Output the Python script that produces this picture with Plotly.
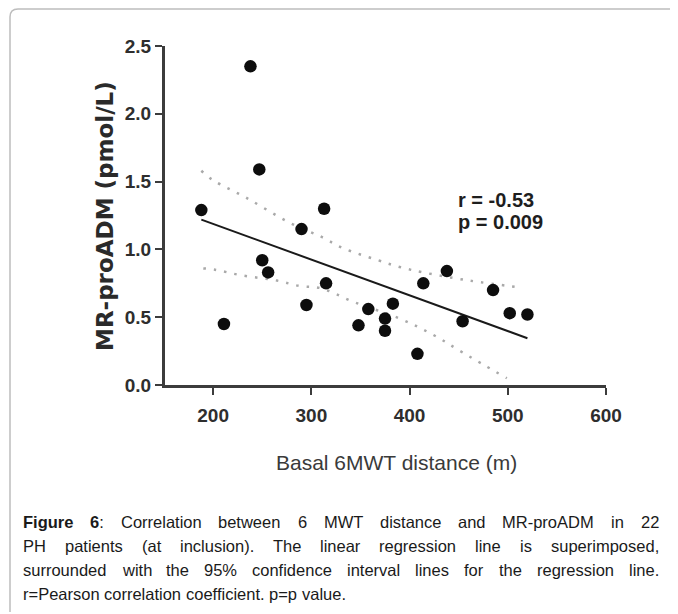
import plotly.graph_objects as go

# ---------------- data ----------------
mwt_m = [188, 238, 247, 211, 250, 256, 290, 295, 313, 315, 358,
         348, 375, 375, 383, 408, 414, 438, 454, 485, 502, 520]
mr_proadm = [1.29, 2.35, 1.59, 0.45, 0.92, 0.83, 1.15, 0.59, 1.30, 0.75, 0.56,
             0.44, 0.49, 0.40, 0.60, 0.23, 0.75, 0.84, 0.47, 0.70, 0.53, 0.52]

reg_x = [188, 520]
reg_y = [1.22, 0.345]

ci_up_x = [188, 200, 234, 277, 311, 332, 368, 390, 414, 461, 512]
ci_up_y = [1.58, 1.51, 1.38, 1.20, 1.09, 1.01, 0.92, 0.87, 0.83, 0.77, 0.72]
ci_lo_x = [190, 202, 228, 265, 288, 309, 344, 390, 424, 454, 499]
ci_lo_y = [0.86, 0.85, 0.81, 0.77, 0.73, 0.715, 0.61, 0.49, 0.37, 0.24, 0.05]

x_ticks = [200, 300, 400, 500, 600]
y_ticks = [0.0, 0.5, 1.0, 1.5, 2.0, 2.5]
x_title = "Basal 6MWT distance (m)"
y_title = "MR-proADM (pmol/L)"
stats_lines = ["r = -0.53", "p = 0.009"]

caption_bold = "Figure 6"
caption_lines = [
    "Figure 6: Correlation between 6 MWT distance and MR-proADM in 22",
    "PH patients (at inclusion). The linear regression line is superimposed,",
    "surrounded with the 95% confidence interval lines for the regression line.",
    "r=Pearson correlation coefficient. p=p value.",
]

# ---------------- layout geometry (page pixels) ----------------
PAGE_W, PAGE_H = 678, 614
OFF = 8                      # default body margin of the html page
FIG_W, FIG_H = PAGE_W - OFF, PAGE_H - OFF
L, R, T, B = 165, 606, 46, 385   # plot area in page pixels


def px_x(xp):
    return (xp - L) / (R - L)


def px_y(yp):
    return (B - yp) / (B - T)


# Arial / Liberation Sans advance widths (per 1000 em)
ARIAL = {' ': 278, '%': 889, '(': 333, ')': 333, ',': 278, '-': 333, '.': 278,
         '/': 278, ':': 278, '=': 584,
         'A': 667, 'B': 667, 'C': 722, 'D': 722, 'E': 667, 'F': 611, 'G': 778,
         'H': 722, 'I': 278, 'J': 500, 'K': 667, 'L': 556, 'M': 833, 'N': 722,
         'O': 778, 'P': 667, 'Q': 778, 'R': 722, 'S': 667, 'T': 611, 'U': 722,
         'V': 667, 'W': 944, 'X': 667, 'Y': 667, 'Z': 611,
         'a': 556, 'b': 556, 'c': 500, 'd': 556, 'e': 556, 'f': 278, 'g': 556,
         'h': 556, 'i': 222, 'j': 222, 'k': 500, 'l': 222, 'm': 833, 'n': 556,
         'o': 556, 'p': 556, 'q': 556, 'r': 333, 's': 500, 't': 278, 'u': 556,
         'v': 500, 'w': 722, 'x': 500, 'y': 500, 'z': 500}
ARIAL_B = {'F': 611, 'i': 278, 'g': 611, 'u': 611, 'r': 389, 'e': 556,
           ' ': 278, ':': 333}


def char_w(ch, bold):
    if bold and ch in ARIAL_B:
        return ARIAL_B[ch]
    if ch.isdigit():
        return 556
    return ARIAL.get(ch, 556)


fig = go.Figure()

dot_line = dict(color='#a9a9a9', width=2.5, dash='2.5px,8px', shape='spline')
fig.add_trace(go.Scatter(x=ci_up_x, y=ci_up_y, mode='lines', line=dot_line,
                         hoverinfo='skip', cliponaxis=False))
fig.add_trace(go.Scatter(x=ci_lo_x, y=ci_lo_y, mode='lines', line=dot_line,
                         hoverinfo='skip', cliponaxis=False))
fig.add_trace(go.Scatter(x=reg_x, y=reg_y, mode='lines',
                         line=dict(color='#1a1a1a', width=2), hoverinfo='skip'))
fig.add_trace(go.Scatter(x=mwt_m, y=mr_proadm, mode='markers',
                         marker=dict(size=12.5, color='#0d0d0d'),
                         cliponaxis=False))

annotations = []
for i, s in enumerate(stats_lines):
    annotations.append(dict(
        x=px_x(457), y=px_y(200 + 22 * i), xref='paper', yref='paper',
        text='<b>%s</b>' % s, showarrow=False, xanchor='left', yanchor='middle',
        borderpad=0,
        font=dict(family='Liberation Sans, Arial', size=20, color='#1e1e1e')))

annotations.append(dict(
    x=px_x(105), y=px_y(216), xref='paper', yref='paper', text='<b>%s</b>' % y_title,
    textangle=-90, showarrow=False, xanchor='center', yanchor='middle',
    font=dict(family='DejaVu Sans', size=23, color='#2a2a2a')))
annotations.append(dict(
    x=px_x(396), y=px_y(462), xref='paper', yref='paper', text=x_title,
    showarrow=False, xanchor='center', yanchor='middle',
    font=dict(family='Liberation Sans, Arial', size=21, color='#3a3a3a')))

# caption, justified word by word
cap_size = 16.5
cap_left, cap_right = 22, 658
line_y = [522, 546, 570, 594]
for li, line in enumerate(caption_lines):
    words = []
    pos = 0
    for w in line.split(' '):
        start = line.index(w, pos)
        pos = start + len(w)
        bold_flags = [(li == 0 and (start + k) < len(caption_bold)) for k in range(len(w))]
        width = sum(char_w(c, b) for c, b in zip(w, bold_flags)) * cap_size / 1000
        html = ''
        for c, b in zip(w, bold_flags):
            html += ('<b>%s</b>' % c) if b else c
        html = html.replace('</b><b>', '')
        words.append((html, width))
    total = sum(wd for _, wd in words)
    if li < len(caption_lines) - 1:
        gap = (cap_right - cap_left - total) / (len(words) - 1)
    else:
        gap = char_w(' ', False) * cap_size / 1000
    xcur = cap_left
    for html, wd in words:
        annotations.append(dict(
            x=px_x(xcur), y=px_y(line_y[li]), xref='paper', yref='paper',
            text=html, showarrow=False, xanchor='left', yanchor='middle',
            borderpad=0,
            font=dict(family='Liberation Sans, Arial', size=cap_size, color='#1a1a1a')))
        xcur += wd + gap

# frame (top + left border with rounded corner)
fx, fy, rad = 10, 9, 8
frame_path = 'M %f,%f L %f,%f Q %f,%f %f,%f L %f,%f' % (
    px_x(fx), px_y(612), px_x(fx), px_y(fy + rad), px_x(fx), px_y(fy),
    px_x(fx + rad), px_y(fy), px_x(PAGE_W + 2), px_y(fy))
shapes = [dict(type='path', xref='paper', yref='paper', path=frame_path,
               line=dict(color='#bdbdbd', width=1.5), layer='below')]

axis_common = dict(showline=True, linecolor='#3c3c3c', linewidth=3,
                   ticks='outside', ticklen=7, tickwidth=2, tickcolor='#3c3c3c',
                   showgrid=False, zeroline=False,
                   tickfont=dict(family='Liberation Sans, Arial', size=19,
                                 color='#2e2e2e', weight='bold'))

fig.update_layout(
    width=FIG_W, height=FIG_H, autosize=False,
    margin=dict(l=L - OFF, r=PAGE_W - R, t=T - OFF, b=PAGE_H - B),
    paper_bgcolor='white', plot_bgcolor='white',
    showlegend=False,
    xaxis=dict(range=[151, 600], tickvals=x_ticks, ticklabelstandoff=4,
               **axis_common),
    yaxis=dict(range=[0, 2.5], tickvals=y_ticks, tickformat='.1f',
               ticklabelstandoff=0, **axis_common),
    annotations=annotations,
    shapes=shapes,
)

fig.write_html('out.html')
